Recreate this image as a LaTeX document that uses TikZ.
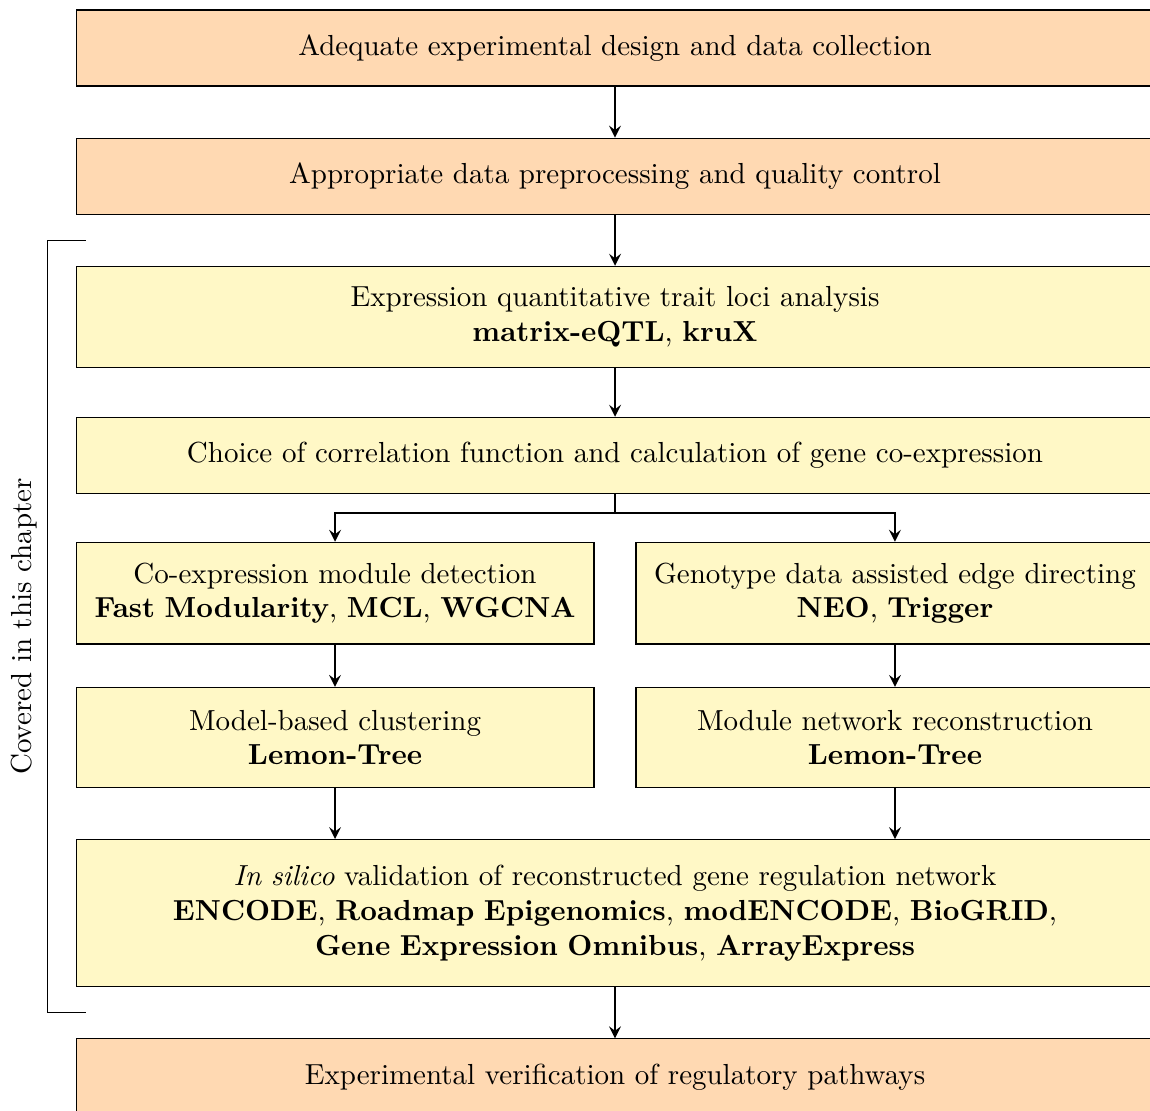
\documentclass[tikz,border=0pt]{standalone}
\usepackage{amsmath}
\usetikzlibrary{calc,positioning,arrows}
\definecolor{peach}{rgb}{1,0.85,0.7}
\definecolor{paleyellow}{RGB}{255,248,198}

\begin{document}
\begin{tikzpicture}[>=stealth, node distance=17.6pt,
      stage/.style={draw, fill=peach, align=center, text width=365.7pt,
                    inner xsep=3pt, inner ysep=7pt, minimum height=26.2pt},
      task/.style={stage, fill=paleyellow},
      subtask/.style={task, text width=172.6pt, minimum height=34.5pt},
      flow/.style={->, thick}]
   \useasboundingbox (0,0) rectangle (396.6pt,-383.1pt);
   % outer stages
        \node[stage] (design) at (212.1pt,-16.55pt) {Adequate experimental design and data collection};
        \node[stage, below=of design] (preproc) {Appropriate data preprocessing and quality control};
   % covered in this chapter
        \node[task, below=of preproc] (eqtl) {Expression quantitative trait loci analysis\\ \textbf{matrix-eQTL}, \textbf{kruX}};
        \node[task, below=16.8pt of eqtl] (corr) {Choice of correlation function and calculation of gene co-expression};
        \node[subtask, below=16.5pt of corr.south west, anchor=north west] (module) {Co-expression module detection\\ \textbf{Fast Modularity}, \textbf{MCL}, \textbf{WGCNA}};
        \node[subtask, below=16.5pt of corr.south east, anchor=north east] (genotype) {Genotype data assisted edge directing\\ \textbf{NEO}, \textbf{Trigger}};
        \node[subtask, below=14.6pt of module] (clustering) {Model-based clustering\\ \textbf{Lemon-Tree}};
        \node[subtask, below=14.6pt of genotype] (modnet) {Module network reconstruction\\ \textbf{Lemon-Tree}};
        \node[task, below=of clustering.south west, anchor=north west, minimum height=50.7pt] (validation) {\emph{In silico} validation of reconstructed gene regulation network\\
              \textbf{ENCODE}, \textbf{Roadmap Epigenomics}, \textbf{modENCODE}, \textbf{BioGRID},\\ \textbf{Gene Expression Omnibus}, \textbf{ArrayExpress}};
        \node[stage, below=of validation] (verif) {Experimental verification of regulatory pathways};
   % arrows
        \draw[flow] (design) -- (preproc);
        \draw[flow] (preproc) -- (eqtl);
        \draw[flow] (eqtl) -- (corr);
        \coordinate (split) at ($(corr.south)+(0,-6.5pt)$);
        \draw[thick] (corr.south) -- (split);
        \draw[flow] (split) -| (module);
        \draw[flow] (split) -| (genotype);
        \draw[flow] (module) -- (clustering);
        \draw[flow] (genotype) -- (modnet);
        \draw[flow] (clustering) -- (clustering |- validation.north);
        \draw[flow] (modnet) -- (modnet |- validation.north);
        \draw[flow] (validation) -- (verif);
   % bracket
        \coordinate (ctop) at ($(preproc.south)!0.5!(eqtl.north)$);
        \coordinate (cbot) at ($(validation.south)!0.5!(verif.north)$);
        \draw ($(ctop -| design.west)+(3.45pt,0)$) -- ($(ctop -| design.west)+(-9.66pt,0)$)
              -- ($(cbot -| design.west)+(-9.66pt,0)$) node[midway, rotate=90, above] {Covered in this chapter}
              -- ($(cbot -| design.west)+(3.45pt,0)$);
\end{tikzpicture}
\end{document}
